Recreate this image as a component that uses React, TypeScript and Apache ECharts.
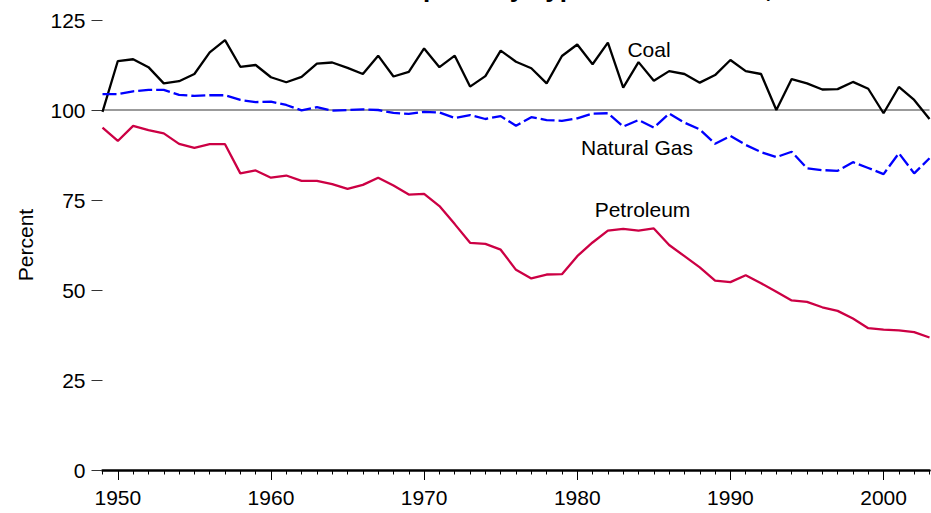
import React, { useEffect, useRef } from "react";
import * as echarts from "echarts";

const titleText = "Production as Share of Consumption by Type of Fossil Fuel, 1949-2003";
const yAxisTitle = "Percent";

const years: string[] = [];
for (let y = 1949; y <= 2003; y++) years.push(String(y));

const coal = [
  99.5, 113.6, 114.1, 111.9, 107.4, 108.0, 110.0, 116.0, 119.4, 112.0,
  112.5, 109.1, 107.7, 109.2, 112.9, 113.2, 111.7, 110.0, 115.1, 109.3,
  110.6, 117.1, 111.9, 115.1, 106.5, 109.4, 116.5, 113.4, 111.6, 107.4,
  115.0, 118.2, 112.7, 118.7, 106.2, 113.3, 108.1, 110.8, 110.0, 107.6,
  109.7, 113.9, 110.8, 110.0, 100.0, 108.6, 107.4, 105.7, 105.8, 107.8,
  105.9, 99.1, 106.4, 102.8, 97.5,
];

const naturalGas = [
  104.4, 104.4, 105.2, 105.6, 105.6, 104.2, 103.9, 104.1, 104.1, 102.8,
  102.2, 102.3, 101.4, 99.9, 100.8, 99.8, 100.0, 100.2, 100.0, 99.2,
  98.9, 99.5, 99.3, 97.8, 98.6, 97.5, 98.3, 95.6, 98.0, 97.2,
  97.0, 97.7, 99.0, 99.1, 95.4, 97.2, 95.1, 99.0, 96.5, 94.6,
  90.6, 92.8, 90.3, 88.3, 86.9, 88.4, 83.8, 83.3, 83.1, 85.5,
  83.9, 82.2, 88.0, 82.4, 86.6,
];

const petroleum = [
  95.1, 91.4, 95.6, 94.4, 93.5, 90.6, 89.5, 90.5, 90.5, 82.4,
  83.2, 81.2, 81.8, 80.3, 80.3, 79.4, 78.1, 79.2, 81.2, 79.0,
  76.5, 76.7, 73.3, 68.3, 63.1, 62.8, 61.2, 55.6, 53.2, 54.3,
  54.4, 59.4, 63.2, 66.5, 67.0, 66.5, 67.1, 62.5, 59.4, 56.3,
  52.6, 52.2, 54.1, 51.9, 49.5, 47.1, 46.7, 45.2, 44.2, 42.1,
  39.4, 39.0, 38.8, 38.3, 36.8,
];

const seriesNames = ["Coal", "Natural Gas", "Petroleum"];
const referenceLevel = 100;
const yTicks = { min: 0, max: 125, interval: 25 };

const FONT = '"Liberation Sans", Arial, Helvetica, sans-serif';

export default function App() {
  const ref = useRef<HTMLDivElement>(null);

  useEffect(() => {
    if (!ref.current) return;
    const chart = echarts.init(ref.current, undefined, { renderer: "svg" });
    const isDecade = (_i: number, v: string) => Number(v) % 10 === 0;

    chart.setOption({
      animation: false,
      backgroundColor: "#ffffff",
      textStyle: { fontFamily: FONT },
      grid: { left: 102.5, right: 1.5, top: 20, bottom: 43, containLabel: false },
      xAxis: [
        {
          type: "category",
          data: years,
          boundaryGap: false,
          position: "bottom",
          axisLine: { show: true, lineStyle: { color: "#000", width: 2.5 } },
          axisTick: { show: true, interval: 0, length: 4.5, lineStyle: { color: "#000", width: 1 } },
          axisLabel: {
            interval: isDecade,
            margin: 17,
            color: "#000",
            fontSize: 21,
            fontFamily: FONT,
          },
          splitLine: { show: false },
        },
        {
          type: "category",
          data: years,
          boundaryGap: false,
          position: "bottom",
          offset: 0,
          axisLine: { show: false },
          axisTick: { show: true, interval: isDecade, length: 10, lineStyle: { color: "#000", width: 1 } },
          axisLabel: { show: false },
          splitLine: { show: false },
        },
      ],
      yAxis: {
        type: "value",
        min: yTicks.min,
        max: yTicks.max,
        interval: yTicks.interval,
        axisLine: { show: false },
        axisTick: { show: true, length: 11, lineStyle: { color: "#333", width: 1 } },
        axisLabel: { margin: 17, color: "#000", fontSize: 21, fontFamily: FONT },
        splitLine: { show: false },
      },
      graphic: [
        {
          type: "text",
          x: 465.5,
          y: -12,
          style: {
            text: titleText,
            font: `bold 26px ${FONT}`,
            fill: "#000",
            textAlign: "center",
            textVerticalAlign: "middle",
          },
        },
        {
          type: "text",
          x: 25,
          y: 245,
          rotation: Math.PI / 2,
          style: {
            text: yAxisTitle,
            font: `21px ${FONT}`,
            fill: "#000",
            textAlign: "center",
            textVerticalAlign: "middle",
          },
        },
        {
          type: "text",
          x: 649,
          y: 49,
          style: { text: seriesNames[0], font: `21px ${FONT}`, fill: "#000", textAlign: "center", textVerticalAlign: "middle" },
        },
        {
          type: "text",
          x: 637,
          y: 147,
          style: { text: seriesNames[1], font: `21px ${FONT}`, fill: "#000", textAlign: "center", textVerticalAlign: "middle" },
        },
        {
          type: "text",
          x: 642.5,
          y: 209,
          style: { text: seriesNames[2], font: `21px ${FONT}`, fill: "#000", textAlign: "center", textVerticalAlign: "middle" },
        },
      ],
      series: [
        {
          name: seriesNames[0],
          type: "line",
          data: coal,
          symbol: "none",
          lineStyle: { color: "#000000", width: 2.3 },
          z: 3,
          markLine: {
            silent: true,
            symbol: "none",
            label: { show: false },
            lineStyle: { color: "#7a7a7a", width: 1.5, type: "solid" },
            data: [{ yAxis: referenceLevel }],
            z: 1,
          },
        },
        {
          name: seriesNames[1],
          type: "line",
          data: naturalGas,
          symbol: "none",
          lineStyle: { color: "#0000ff", width: 2.3, type: [14, 4] },
          z: 3,
        },
        {
          name: seriesNames[2],
          type: "line",
          data: petroleum,
          symbol: "none",
          lineStyle: { color: "#cc0044", width: 2.3 },
          z: 3,
        },
      ],
    });

    return () => chart.dispose();
  }, []);

  return (
    <div
      ref={ref}
      style={{ position: "fixed", left: 0, top: 0, width: 931, height: 513 }}
    />
  );
}
